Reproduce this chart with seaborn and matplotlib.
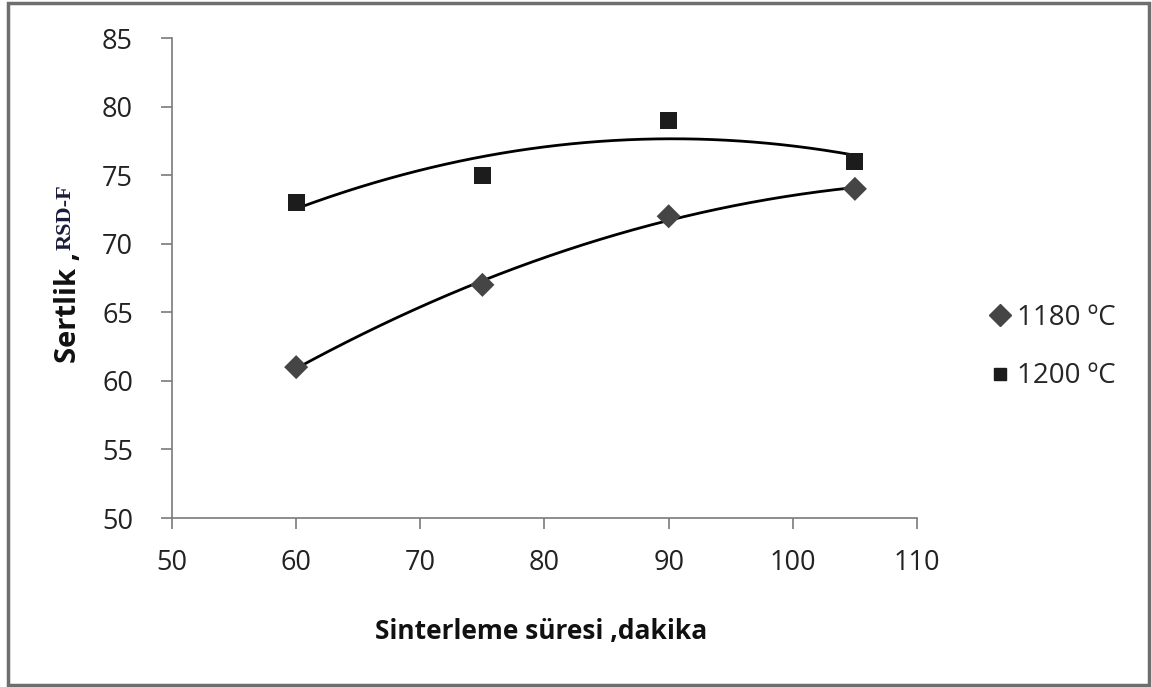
import numpy as np
import pandas as pd
import matplotlib
matplotlib.use("Agg")
import matplotlib.pyplot as plt
from matplotlib.patches import Rectangle
import seaborn as sns

# Sintering time (minutes) and hardness values for two sintering temperatures
sure = [60, 75, 90, 105]
sertlik_1180 = [61, 67, 72, 74]
sertlik_1200 = [73, 75, 79, 76]
series_labels = ["1180 ºC", "1200 ºC"]
x_ticks = [50, 60, 70, 80, 90, 100, 110]
y_ticks = [50, 55, 60, 65, 70, 75, 80, 85]

sns.set_theme(style="white")
plt.rcParams["font.family"] = ["Open Sans", "DejaVu Sans"]

df = pd.DataFrame({
    "sure": sure * 2,
    "sertlik": sertlik_1180 + sertlik_1200,
    "seri": [series_labels[0]] * 4 + [series_labels[1]] * 4,
})

fig = plt.figure(figsize=(11.52, 6.87), dpi=100)
ax = fig.add_axes([172 / 1152, 1 - 518 / 687, (917 - 172) / 1152, (518 - 38) / 687])

# quadratic trend lines through each series
for vals in (sertlik_1180, sertlik_1200):
    coef = np.polyfit(sure, vals, 2)
    xs = np.linspace(min(sure), max(sure), 200)
    sns.lineplot(x=xs, y=np.polyval(coef, xs), ax=ax, color="black", lw=2, zorder=2)

sns.scatterplot(data=df, x="sure", y="sertlik", hue="seri", style="seri",
                markers={series_labels[0]: "D", series_labels[1]: "s"},
                palette={series_labels[0]: "#454545", series_labels[1]: "#1c1c1c"},
                s=150, linewidth=0, ax=ax, zorder=3, legend=False)

ax.set_xlim(50, 110)
ax.set_ylim(50, 85)
ax.set_xticks(x_ticks)
ax.set_yticks(y_ticks)
ax.tick_params(axis="both", labelsize=19.5, labelcolor="#222222", length=8, width=1.2,
               direction="out", color="#7a7a7a", bottom=True, left=True)
ax.tick_params(axis="x", pad=14)
ax.tick_params(axis="y", pad=20)
for side in ("top", "right"):
    ax.spines[side].set_visible(False)
for side in ("left", "bottom"):
    ax.spines[side].set_color("#7a7a7a")
    ax.spines[side].set_linewidth(1.2)
ax.set_xlabel("")
ax.set_ylabel("")

fig.text((172 + 917) / 2 / 1152 - 0.003, 1 - 632 / 687, "Sinterleme süresi ,dakika",
         ha="center", va="center", fontsize=19, fontweight="bold", color="#111111")
fig.text(69 / 1152, 1 - 363 / 687, "Sertlik ,", rotation=90, ha="center", va="bottom",
         fontsize=21, fontweight="bold", color="#111111")
fig.text(66 / 1152, 1 - 250 / 687, "RSD-F", rotation=90, ha="center", va="bottom",
         fontsize=16, fontweight="bold", color="#1a1a3a",
         family=["Liberation Serif", "DejaVu Serif"])

# legend on the right
handles = [
    plt.Line2D([], [], marker="D", color="#454545", ls="none", markersize=11),
    plt.Line2D([], [], marker="s", color="#1c1c1c", ls="none", markersize=9),
]
fig.legend(handles, series_labels, loc="center left",
           bbox_to_anchor=(961 / 1152, 1 - 347 / 687), frameon=False,
           fontsize=20, handletextpad=0.1, labelspacing=1.1, handlelength=1.0)

# outer chart frame
fig.patches.append(Rectangle((8 / 1152, 2 / 687), (1149 - 8) / 1152, (684 - 2) / 687,
                             transform=fig.transFigure, fill=False,
                             edgecolor="#6e6e6e", lw=2.5))

fig.savefig("out.png", dpi=100)
